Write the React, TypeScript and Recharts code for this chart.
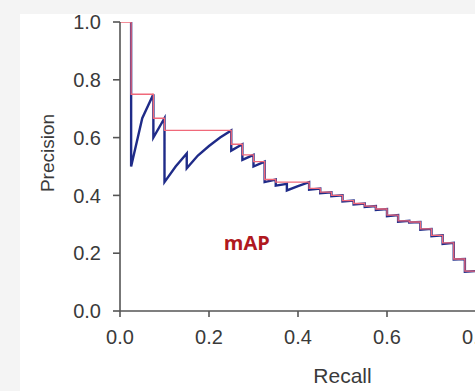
import React from 'react';
import { LineChart, Line, XAxis, YAxis, Label, ReferenceDot } from 'recharts';

// raw precision/recall curve (blue)
const rawRecall = [
  0.025, 0.025, 0.05, 0.075, 0.075, 0.1, 0.1, 0.125, 0.15, 0.15, 0.175, 0.2, 0.225, 0.25, 0.25,
  0.275, 0.275, 0.3, 0.3, 0.325, 0.325, 0.35, 0.35, 0.375, 0.375, 0.4, 0.425, 0.425, 0.45, 0.45,
  0.475, 0.475, 0.5, 0.5, 0.525, 0.525, 0.55, 0.55, 0.575, 0.575, 0.6, 0.6, 0.625, 0.625, 0.65,
  0.65, 0.675, 0.675, 0.7, 0.7, 0.725, 0.725, 0.75, 0.75, 0.775, 0.775, 0.8,
];
const rawPrecision = [
  1.0, 0.5, 0.667, 0.75, 0.6, 0.667, 0.446, 0.5, 0.545, 0.494, 0.538, 0.571, 0.6, 0.625, 0.555,
  0.577, 0.523, 0.54, 0.5, 0.517, 0.446, 0.455, 0.434, 0.44, 0.417, 0.432, 0.446, 0.42, 0.424, 0.408,
  0.411, 0.397, 0.4, 0.379, 0.382, 0.369, 0.372, 0.36, 0.363, 0.35, 0.353, 0.328, 0.332, 0.309, 0.312,
  0.306, 0.308, 0.281, 0.284, 0.259, 0.262, 0.232, 0.236, 0.178, 0.18, 0.136, 0.138,
];

// interpolated precision (red step line)
const interpRecall = [
  0, 0.025, 0.025, 0.075, 0.075, 0.1, 0.1, 0.25, 0.25, 0.275, 0.275, 0.3, 0.3, 0.325, 0.325, 0.35,
  0.35, 0.425, 0.425, 0.45, 0.45, 0.475, 0.475, 0.5, 0.5, 0.525, 0.525, 0.55, 0.55, 0.575, 0.575,
  0.6, 0.6, 0.625, 0.625, 0.65, 0.65, 0.675, 0.675, 0.7, 0.7, 0.725, 0.725, 0.75, 0.75, 0.775,
  0.775, 0.8,
];
const interpPrecision = [
  1.0, 1.0, 0.75, 0.75, 0.667, 0.667, 0.625, 0.625, 0.577, 0.577, 0.54, 0.54, 0.517, 0.517, 0.455, 0.455,
  0.446, 0.446, 0.424, 0.424, 0.411, 0.411, 0.4, 0.4, 0.382, 0.382, 0.372, 0.372, 0.363, 0.363, 0.353,
  0.353, 0.332, 0.332, 0.312, 0.312, 0.308, 0.308, 0.284, 0.284, 0.262, 0.262, 0.236, 0.236, 0.18, 0.18,
  0.138, 0.138,
];

const xTicks = [0, 0.2, 0.4, 0.6, 0.8, 1.0];
const yTicks = [0, 0.2, 0.4, 0.6, 0.8, 1.0];

const annotation = { text: 'mAP', recall: 0.285, precision: 0.235 };

const rawData = rawRecall.map((r, i) => ({ recall: r, precision: rawPrecision[i] }));
const interpData = interpRecall.map((r, i) => ({ recall: r, precision: interpPrecision[i] }));

const font = 'Liberation Sans, Arial, sans-serif';
const tickStyle = { fontFamily: font, fontSize: 20, fill: '#3a3a3a' };
const axisColor = '#555';

export default function App() {
  return (
    <div
      style={{
        position: 'fixed',
        left: 0,
        top: 0,
        width: 475,
        height: 391,
        overflow: 'hidden',
        background: '#f4f4f4',
      }}
    >
      <div style={{ position: 'absolute', left: 20, top: 14, right: 0, bottom: 0, background: '#fff' }} />
      <div style={{ position: 'absolute', left: 0, top: 0 }}>
        {/* chart is wider than the window on purpose: the reference is cropped at recall ~0.8 */}
        <LineChart width={580} height={391} margin={{ top: 22, right: 15, bottom: 0, left: 0 }}>
          <XAxis
            type="number"
            dataKey="recall"
            domain={[0, 1]}
            ticks={xTicks}
            allowDataOverflow
            height={80}
            tickSize={6}
            tickMargin={13}
            tickFormatter={(v: number) => v.toFixed(1)}
            tick={tickStyle}
            stroke={axisColor}
            strokeWidth={1.6}
          >
            <Label
              value="Recall"
              position="insideBottom"
              offset={8}
              style={{ fontFamily: font, fontSize: 21, fill: '#3a3a3a' }}
            />
          </XAxis>
          <YAxis
            type="number"
            dataKey="precision"
            domain={[0, 1]}
            ticks={yTicks}
            allowDataOverflow
            width={120}
            tickSize={7}
            tickMargin={12}
            tickFormatter={(v: number) => v.toFixed(1)}
            tick={tickStyle}
            stroke={axisColor}
            strokeWidth={1.6}
          >
            <Label
              content={() => (
                <text
                  x={47}
                  y={153}
                  transform="rotate(-90 47 153)"
                  textAnchor="middle"
                  dominantBaseline="central"
                  style={{ fontFamily: font, fontSize: 19, fill: '#3a3a3a' }}
                >
                  Precision
                </text>
              )}
            />
          </YAxis>

          {/* blue underneath and a bit wider so it shows round the thin red step line */}
          <Line
            data={rawData}
            dataKey="precision"
            type="linear"
            stroke="#1f2b88"
            strokeWidth={2.4}
            dot={false}
            isAnimationActive={false}
          />
          <Line
            data={interpData}
            dataKey="precision"
            type="linear"
            stroke="#f0697a"
            strokeWidth={1.3}
            dot={false}
            isAnimationActive={false}
          />

          <ReferenceDot
            x={annotation.recall}
            y={annotation.precision}
            r={1}
            fill="none"
            stroke="none"
            label={{
              value: annotation.text,
              position: 'center',
              fill: '#b01820',
              fontSize: 20,
              fontWeight: 'bold',
              fontFamily: 'Open Sans, sans-serif',
            }}
          />
        </LineChart>
      </div>
    </div>
  );
}
